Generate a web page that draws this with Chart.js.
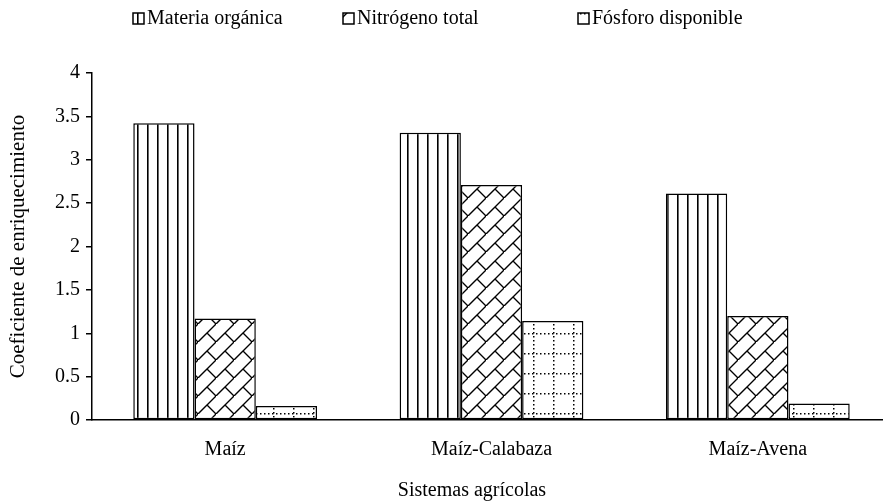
<!DOCTYPE html>
<html>
<head>
<meta charset="utf-8">
<script src="https://cdn.jsdelivr.net/npm/chart.js@4"></script>
<style>
  html, body { margin: 0; padding: 0; background: #fff; overflow: hidden; }
  #wrap { width: 883px; height: 501px; overflow: hidden; position: relative; }
</style>
</head>
<body>
<div id="wrap">
  <canvas id="rm-chart" width="900" height="501"></canvas>
</div>
<script>
const categories = ['Maíz', 'Maíz-Calabaza', 'Maíz-Avena'];
const seriesNames = ['Materia orgánica', 'Nitrógeno total', 'Fósforo disponible'];
const materiaOrganica = [3.42, 3.31, 2.61];
const nitrogenoTotal = [1.17, 2.71, 1.20];
const fosforoDisponible = [0.16, 1.14, 0.19];
const yTicks = [0, 0.5, 1, 1.5, 2, 2.5, 3, 3.5, 4];

const serif = "'Liberation Serif', 'Times New Roman', serif";
const fontSize = 20;

function makeTile(size, draw) {
    const c = document.createElement('canvas');
    c.width = size;
    c.height = size;
    const g = c.getContext('2d');
    g.fillStyle = '#fff';
    g.fillRect(0, 0, size, size);
    g.fillStyle = '#000';
    g.strokeStyle = '#000';
    draw(g, size);
    return c;
}

const ctx = document.getElementById('rm-chart').getContext('2d');

// vertical lines
const tileVertical = makeTile(10, (g) => {
    g.fillRect(7, 0, 1.6, 10);
});

// diagonal brick
const tileBrick = makeTile(18, (g, s) => {
    g.lineWidth = 1.4;
    g.beginPath();
    g.moveTo(-1, s + 1);
    g.lineTo(s + 1, -1);
    g.moveTo(s / 2, s / 2);
    g.lineTo(s, s);
    g.stroke();
});

// dotted grid
const tileDots = makeTile(20, (g, s) => {
    for (let i = 0; i < s; i += 4) {
        g.fillRect(i, 13, 1.5, 1.5);
        g.fillRect(13, i, 1.5, 1.5);
    }
});

const patterns = [
    ctx.createPattern(tileVertical, 'repeat'),
    ctx.createPattern(tileBrick, 'repeat'),
    ctx.createPattern(tileDots, 'repeat')
];

// legend + x title, drawn like the excel one
const legendX = [133, 343, 578];
const extras = {
    id: 'extras',
    afterDraw(chart) {
        const c = chart.ctx;
        c.save();
        c.font = fontSize + 'px ' + serif;
        c.textBaseline = 'middle';
        seriesNames.forEach((name, i) => {
            const x = legendX[i];
            c.fillStyle = patterns[i];
            c.fillRect(x, 13, 11, 11);
            c.strokeStyle = '#000';
            c.lineWidth = 1.5;
            c.strokeRect(x, 13, 11, 11);
            c.fillStyle = '#000';
            c.textAlign = 'left';
            c.fillText(name, x + 14, 19);
        });
        c.fillStyle = '#000';
        c.textAlign = 'center';
        c.fillText('Sistemas agrícolas', 472, 491);
        c.restore();
    }
};

const allSeries = [materiaOrganica, nitrogenoTotal, fosforoDisponible];

const rmChart = new Chart(ctx, {
    type: 'bar',
    data: {
        labels: categories,
        datasets: allSeries.map((values, i) => ({
            label: seriesNames[i],
            data: values,
            backgroundColor: patterns[i],
            borderColor: '#000',
            borderWidth: 1.5,
            borderSkipped: false,
            categoryPercentage: 0.69,
            barPercentage: 1
        }))
    },
    options: {
        responsive: false,
        animation: false,
        layout: {
            padding: { top: 73, right: 9, bottom: 0, left: 0 }
        },
        plugins: {
            tooltip: { enabled: false },
            legend: { display: false }
        },
        scales: {
            x: {
                grid: { display: false },
                border: { color: '#000', width: 1.5 },
                ticks: {
                    color: '#000',
                    font: { family: serif, size: fontSize },
                    padding: 10
                },
                afterFit(scale) {
                    scale.height = 81;
                }
            },
            y: {
                min: 0,
                max: 4,
                afterBuildTicks(scale) {
                    scale.ticks = yTicks.map(v => ({ value: v }));
                },
                grid: {
                    drawOnChartArea: false,
                    color: '#000',
                    lineWidth: 1.5,
                    tickLength: 6
                },
                border: { color: '#000', width: 1.5 },
                ticks: {
                    color: '#000',
                    font: { family: serif, size: fontSize },
                    padding: 6,
                    callback: (v) => String(v)
                },
                title: {
                    display: true,
                    text: 'Coeficiente de enriquecimiento',
                    color: '#000',
                    font: { family: serif, size: 21 },
                    padding: { top: 6, bottom: 0 }
                },
                afterFit(scale) {
                    scale.width = 92;
                }
            }
        }
    },
    plugins: [extras]
});
</script>
</body>
</html>
